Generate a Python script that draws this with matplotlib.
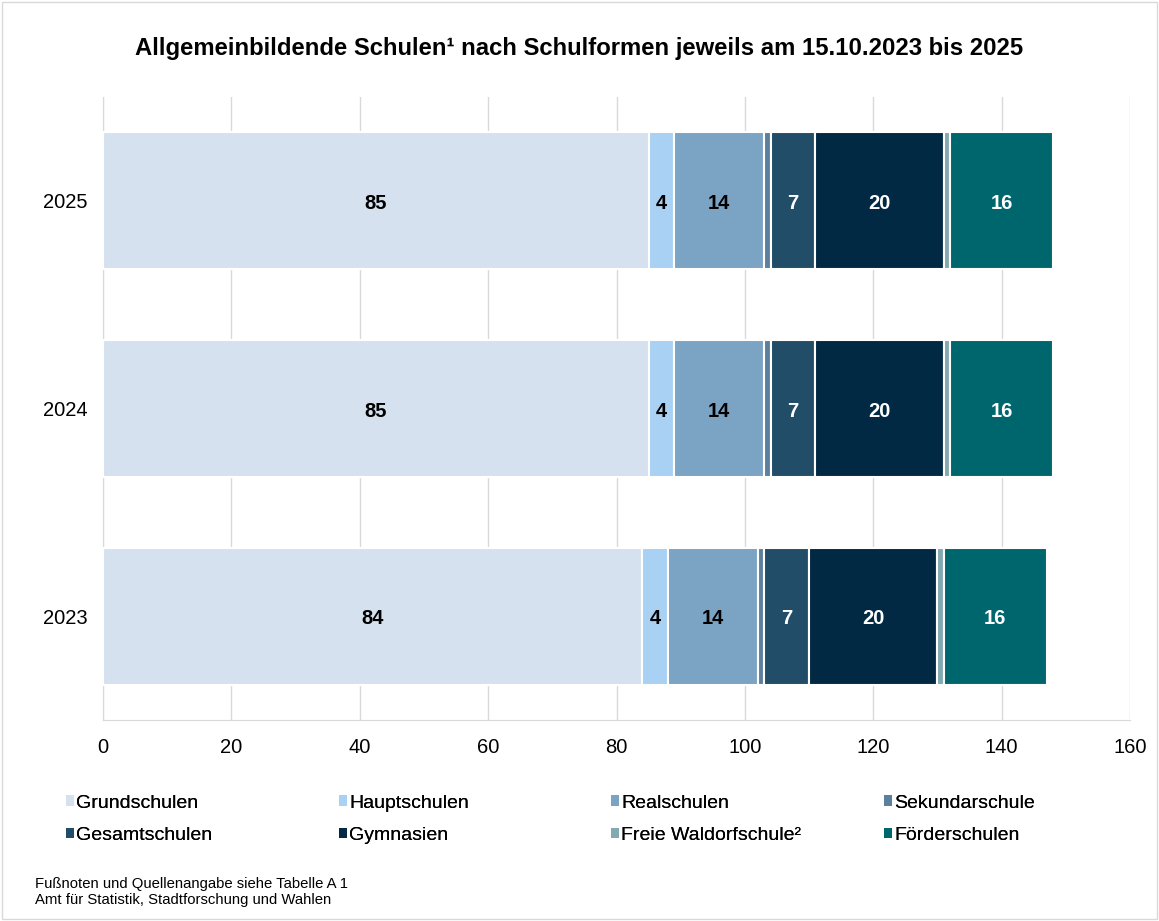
import matplotlib
matplotlib.use("Agg")
import matplotlib.pyplot as plt
from matplotlib.patches import Rectangle
import numpy as np

plt.rcParams['font.family'] = ['Liberation Sans', 'DejaVu Sans']

years = ["2023", "2024", "2025"]
categories = ["Grundschulen", "Hauptschulen", "Realschulen", "Sekundarschule",
              "Gesamtschulen", "Gymnasien", "Freie Waldorfschule²", "Förderschulen"]
grundschulen = [84, 85, 85]
hauptschulen = [4, 4, 4]
realschulen = [14, 14, 14]
sekundarschule = [1, 1, 1]
gesamtschulen = [7, 7, 7]
gymnasien = [20, 20, 20]
waldorf = [1, 1, 1]
foerderschulen = [16, 16, 16]
series = [grundschulen, hauptschulen, realschulen, sekundarschule,
          gesamtschulen, gymnasien, waldorf, foerderschulen]
colors = ["#D5E1EE", "#A9D1F3", "#7BA3C3", "#5C7F9E",
          "#214D68", "#022944", "#82AAB0", "#00666E"]
label_colors = ["black", "black", "black", None, "white", "white", None, "white"]

fig = plt.figure(figsize=(11.59, 9.21), dpi=100)
ax = fig.add_axes([103/1159, 1 - 720/921, (1130-103)/1159, (720-97)/921])

y = np.arange(len(years))
left = np.zeros(len(years))
handles = []
for vals, col, lc, name in zip(series, colors, label_colors, categories):
    bars = ax.barh(y, vals, left=left, height=0.66, color=col, edgecolor="white",
                   linewidth=1.5, label=name, zorder=3)
    handles.append(bars)
    if lc is not None:
        for b, v in zip(bars, vals):
            ax.text(b.get_x() + b.get_width()/2, b.get_y() + b.get_height()/2 - 0.013, str(v),
                    ha="center", va="center", color=lc, fontsize=14.5,
                    fontweight="bold", zorder=4)
    left += np.array(vals)

ax.set_xlim(0, 160)
ax.set_ylim(-0.5, 2.5)
ax.set_xticks(range(0, 161, 20))
ax.set_yticks(y)
ax.set_yticklabels(years)
ax.tick_params(axis="both", length=0, labelsize=14.5)
ax.tick_params(axis="x", pad=13)
ax.tick_params(axis="y", pad=11)
ax.grid(axis="x", color="#D9D9D9", linewidth=1, zorder=0)
for s in ["top", "right"]:
    ax.spines[s].set_visible(False)
ax.spines["left"].set_color("#D9D9D9")
ax.spines["bottom"].set_color("#D9D9D9")

fig.text(0.5, 1 - 48/921, "Allgemeinbildende Schulen¹ nach Schulformen jeweils am 15.10.2023 bis 2025",
         ha="center", va="center", fontsize=17.2, fontweight="bold")

col_x = [52, 325, 597, 870]
for i, cx in enumerate(col_x):
    hs = [handles[i], handles[i + 4]]
    ls = [categories[i], categories[i + 4]]
    leg = fig.legend(hs, ls, loc="upper left", bbox_to_anchor=(cx/1159, 1 - 781/921),
                     ncol=1, frameon=False, fontsize=14, handlelength=0.45, handleheight=0.45,
                     handletextpad=0.1, labelspacing=0.8, borderpad=0.2)
    for p in leg.get_patches():
        p.set_edgecolor("none")
    fig.add_artist(leg)

fig.text(35/1159, 1 - 892/921, "Fußnoten und Quellenangabe siehe Tabelle A 1\nAmt für Statistik, Stadtforschung und Wahlen",
         ha="left", va="center", fontsize=10.7, linespacing=1.25)

fig.patches.append(Rectangle((0.002, 0.002), 0.996, 0.996, transform=fig.transFigure,
                             fill=False, edgecolor="#D9D9D9", linewidth=1))

fig.savefig("out.png", dpi=100)
